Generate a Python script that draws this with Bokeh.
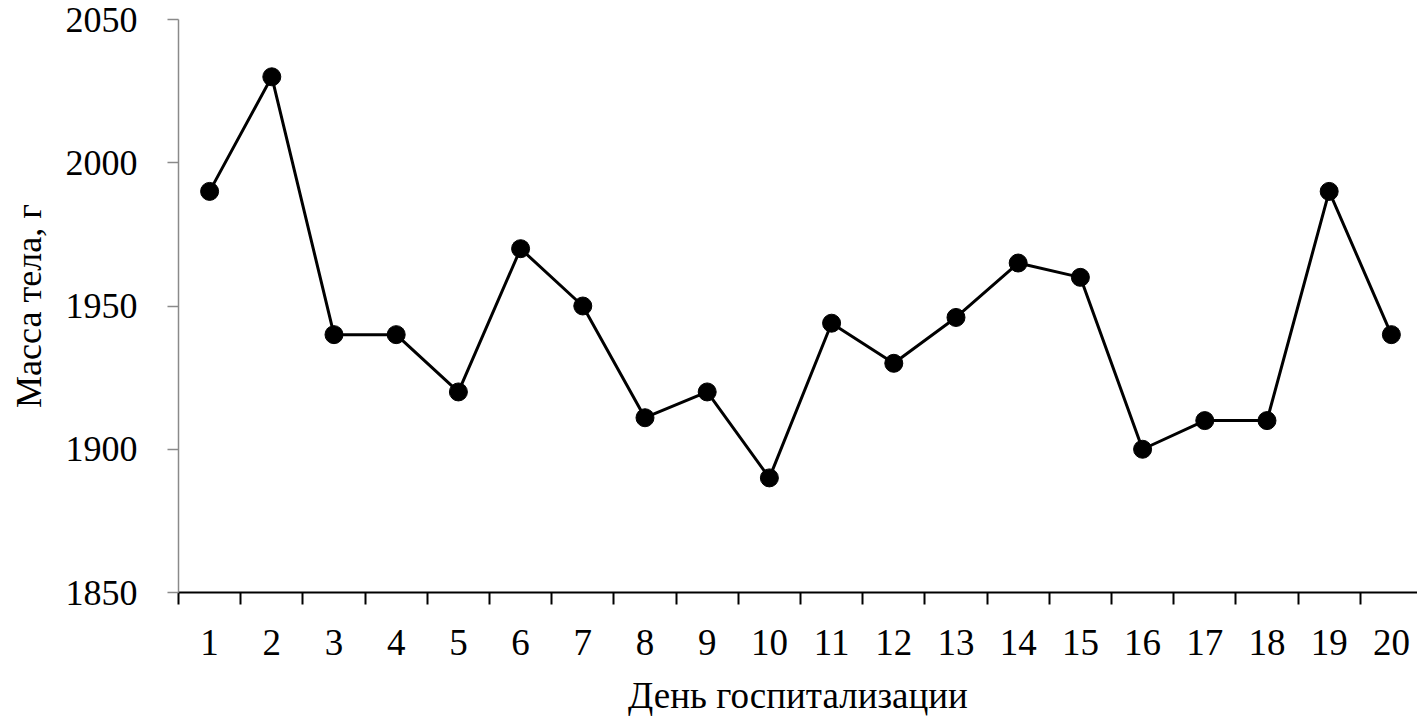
from bokeh.plotting import figure
from bokeh.models import FixedTicker, Range1d
from bokeh.embed import file_html
from bokeh.resources import INLINE

# Day of hospitalisation and body mass, g
days = list(range(1, 21))
mass = [1990, 2030, 1940, 1940, 1920, 1970, 1950, 1911, 1920, 1890,
        1944, 1930, 1946, 1965, 1960, 1900, 1910, 1910, 1990, 1940]
y_ticks = [1850, 1900, 1950, 2000, 2050]
day_edges = [d - 0.5 for d in days]

FONT = "Liberation Serif"

p = figure(
    width=1417, height=722,
    x_range=Range1d(0.5, 20.42),
    y_range=Range1d(1850, 2050),
    output_backend="svg",
    toolbar_location=None,
    min_border_left=178, min_border_right=0,
    min_border_top=19, min_border_bottom=130,
)
p.outline_line_color = None
p.grid.visible = False
p.background_fill_color = "white"
p.border_fill_color = "white"

p.line(days, mass, line_color="black", line_width=3)
p.scatter(days, mass, size=18, fill_color="black", line_color="black")

# x axis: labels at day centres, ticks between days
xa = p.xaxis[0]
xa.ticker = FixedTicker(ticks=days, minor_ticks=day_edges)
xa.axis_line_color = "black"
xa.axis_line_width = 2
xa.major_tick_line_color = None
xa.minor_tick_line_color = "black"
xa.minor_tick_line_width = 2
xa.minor_tick_out = 12
xa.minor_tick_in = 0
xa.major_label_text_font = FONT
xa.major_label_text_font_size = "37px"
xa.major_label_text_color = "black"
xa.major_label_standoff = 25
xa.axis_label = "День госпитализации"
xa.axis_label_text_font = FONT
xa.axis_label_text_font_size = "37px"
xa.axis_label_text_font_style = "normal"
xa.axis_label_text_color = "black"
xa.axis_label_standoff = 17

ya = p.yaxis[0]
ya.ticker = FixedTicker(ticks=y_ticks, minor_ticks=[])
ya.axis_line_color = "#8a8a8a"
ya.axis_line_width = 1.5
ya.major_tick_line_color = "#8a8a8a"
ya.major_tick_line_width = 1.5
ya.major_tick_out = 11
ya.major_tick_in = 0
ya.minor_tick_line_color = None
ya.major_label_text_font = FONT
ya.major_label_text_font_size = "36px"
ya.major_label_text_color = "black"
ya.major_label_standoff = 30
ya.axis_label = "Масса тела, г"
ya.axis_label_text_font = FONT
ya.axis_label_text_font_size = "36px"
ya.axis_label_text_font_style = "normal"
ya.axis_label_text_color = "black"
ya.axis_label_standoff = 14

open("out.html", "w").write(file_html(p, INLINE))
